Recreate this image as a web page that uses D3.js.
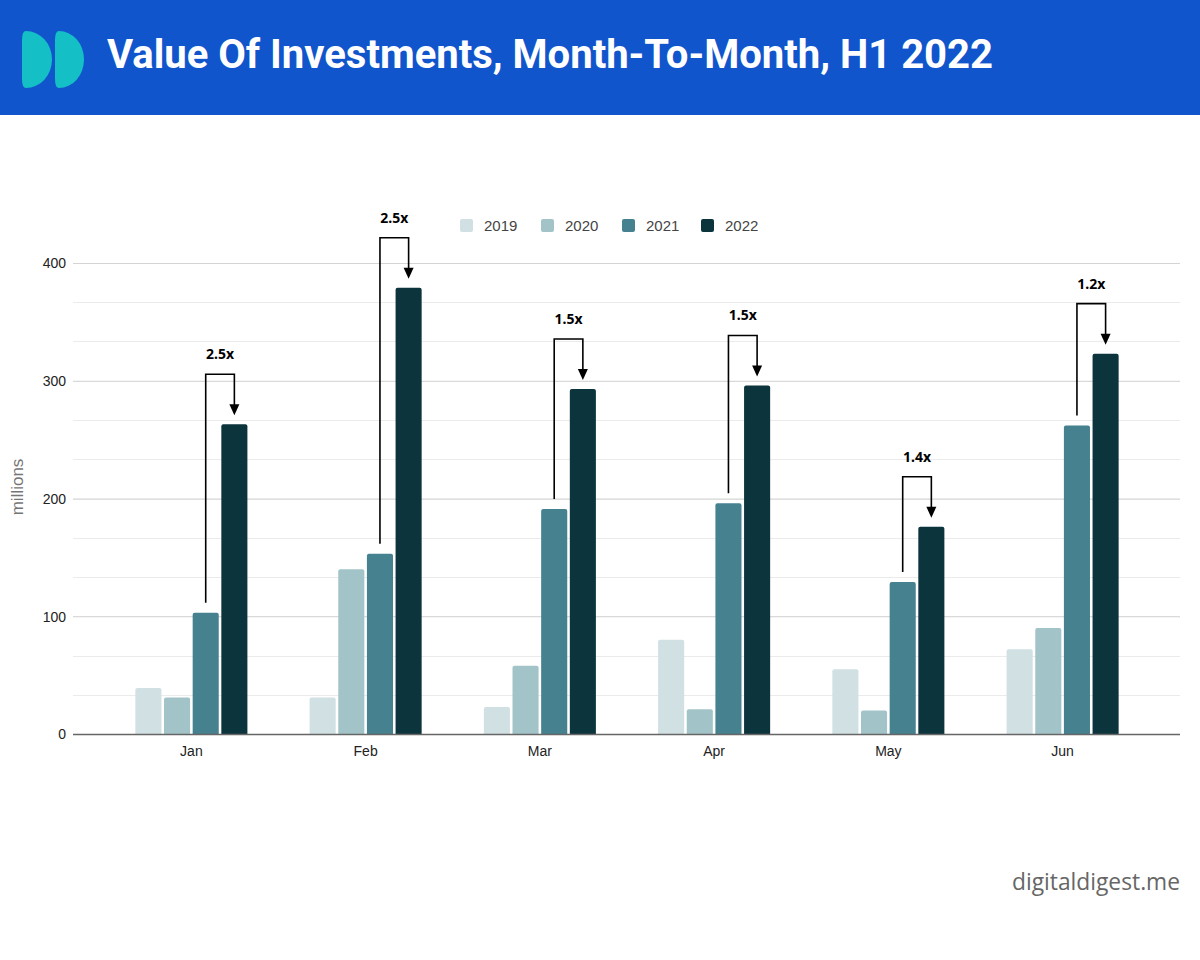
<!DOCTYPE html>
<html>
<head>
<meta charset="utf-8">
<script src="https://cdn.jsdelivr.net/npm/d3@7/dist/d3.min.js"></script>
<style>
  html, body { margin: 0; padding: 0; background: #fff; }
  svg { display: block; }
</style>
</head>
<body>
<svg id="chart" width="1200" height="960"></svg>
<script>
const months = ["Jan", "Feb", "Mar", "Apr", "May", "Jun"];
const years = ["2019", "2020", "2021", "2022"];
const values2019 = [39, 31, 23, 80, 55, 72];
const values2020 = [31, 140, 58, 21, 20, 90];
const values2021 = [103, 153, 191, 196, 129, 262];
const values2022 = [263, 379, 293, 296, 176, 323];
const growthLabels = ["2.5x", "2.5x", "1.5x", "1.5x", "1.4x", "1.2x"];
const yTicks = [0, 100, 200, 300, 400];
const colors = ["#d0e0e3", "#a2c4c9", "#45818e", "#0c343d"];

const seriesValues = [values2019, values2020, values2021, values2022];
const rows = months.map((m, i) => ({ month: m, vals: years.map((y, j) => ({ year: y, value: seriesValues[j][i] })) }));

const svg = d3.select("#chart");

// Header
svg.append("rect").attr("x", 0).attr("y", 0).attr("width", 1200).attr("height", 115).attr("fill", "#1155cc");
const logo = (x0, x1) => `M${x0+4},31 Q${x0},31 ${x0},40 L${x0},79 Q${x0},88 ${x0+4},88 A${x1-x0-4},28.5 0 0 0 ${x0+4},31 Z`;
svg.append("path").attr("d", logo(22, 52)).attr("fill", "#14bfc5");
svg.append("path").attr("d", logo(55, 84)).attr("fill", "#14bfc5");
svg.append("text").attr("x", 107).attr("y", 68)
  .attr("font-family", "Roboto, 'Open Sans', sans-serif").attr("font-weight", 700).attr("font-size", 40)
  .attr("fill", "#fff").attr("textLength", 886).attr("lengthAdjust", "spacingAndGlyphs")
  .text("Value Of Investments, Month-To-Month, H1 2022");

// Scales
const y = d3.scaleLinear().domain([0, 400]).range([734, 263]);
const x0 = d3.scaleBand().domain(months).range([104, 1150]).paddingInner(0.357).paddingOuter(0.18);
const x1 = d3.scaleBand().domain(years).range([0, x0.bandwidth()]).paddingInner(0.09);
const color = d3.scaleOrdinal().domain(years).range(colors);

const gridLeft = 73, gridRight = 1180;

// Minor grid
const minorTicks = d3.range(0, 400.01, 100 / 3);
svg.append("g").selectAll("line").data(minorTicks).join("line")
  .attr("x1", gridLeft).attr("x2", gridRight)
  .attr("y1", d => Math.round(y(d)) + 0.5).attr("y2", d => Math.round(y(d)) + 0.5)
  .attr("stroke", "#ebebeb").attr("stroke-width", 1);

// Major grid + y labels
const yAxis = d3.axisLeft(y).tickValues(yTicks).tickSize(-(gridRight - gridLeft)).tickPadding(8).tickFormat(d3.format("d"));
const yg = svg.append("g").attr("transform", `translate(${gridLeft},0)`).call(yAxis);
yg.select(".domain").remove();
yg.selectAll(".tick line").attr("stroke", "#d4d4d4");
yg.selectAll(".tick text").attr("font-family", "'Liberation Sans', Arial, sans-serif").attr("font-size", 14).attr("fill", "#222").attr("x", -7).attr("dy", "0.35em");

// Bars
const groups = svg.append("g").selectAll("g").data(rows).join("g")
  .attr("transform", d => `translate(${x0(d.month)},0)`);
groups.selectAll("rect").data(d => d.vals).join("rect")
  .attr("x", d => x1(d.year)).attr("width", x1.bandwidth())
  .attr("y", d => y(d.value)).attr("height", d => y(0) - y(d.value) + 2)
  .attr("rx", 2).attr("fill", d => color(d.year));

// Cover rounding at the bottom with the baseline
svg.append("rect").attr("x", gridLeft).attr("y", 734.5).attr("width", gridRight - gridLeft).attr("height", 4).attr("fill", "#fff");

// X axis
const xAxis = d3.axisBottom(x0).tickSize(0).tickPadding(12);
const xg = svg.append("g").attr("transform", `translate(0,${y(0)})`).call(xAxis);
xg.select(".domain").remove();
xg.selectAll(".tick text").attr("font-family", "'Liberation Sans', Arial, sans-serif").attr("font-size", 14).attr("fill", "#222");
svg.append("line").attr("x1", gridLeft).attr("x2", gridRight).attr("y1", 734.5).attr("y2", 734.5).attr("stroke", "#666").attr("stroke-width", 1.3);

// y axis title
svg.append("text").attr("transform", "translate(23,487) rotate(-90)").attr("text-anchor", "middle")
  .attr("font-family", "'Liberation Sans', Arial, sans-serif").attr("font-size", 17).attr("fill", "#757575").text("millions");

// Legend
const legendX = [460, 541, 622, 701];
const lg = svg.append("g").selectAll("g").data(years).join("g")
  .attr("transform", (d, i) => `translate(${legendX[i]},219)`);
lg.append("rect").attr("width", 13).attr("height", 13).attr("rx", 2).attr("fill", d => color(d));
lg.append("text").attr("x", 24).attr("y", 12).attr("font-family", "'Liberation Sans', Arial, sans-serif")
  .attr("font-size", 15).attr("fill", "#444").text(d => d);

// Growth annotations
const ann = svg.append("g");
rows.forEach((r, i) => {
  const xl = x0(r.month) + x1("2021") + x1.bandwidth() / 2;
  const xr = x0(r.month) + x1("2022") + x1.bandwidth() / 2;
  const top22 = y(r.vals[3].value);
  const top21 = y(r.vals[2].value);
  const bracketTop = top22 - 50;
  const tip = top22 - 9;
  ann.append("path")
    .attr("d", `M${xl},${top21 - 10} L${xl},${bracketTop} L${xr},${bracketTop} L${xr},${tip - 9}`)
    .attr("fill", "none").attr("stroke", "#000").attr("stroke-width", 1.6);
  ann.append("path")
    .attr("d", `M${xr - 5},${tip - 11} L${xr + 5},${tip - 11} L${xr},${tip} Z`)
    .attr("fill", "#000");
  ann.append("text").attr("x", (xl + xr) / 2).attr("y", bracketTop - 15).attr("text-anchor", "middle")
    .attr("font-family", "'Noto Sans', sans-serif").attr("font-weight", 700).attr("font-size", 14)
    .attr("fill", "#000").text(growthLabels[i]);
});

// Footer
svg.append("text").attr("x", 1180).attr("y", 890).attr("text-anchor", "end")
  .attr("font-family", "'Open Sans', Roboto, sans-serif").attr("font-weight", 400).attr("font-size", 23)
  .attr("fill", "#666").attr("textLength", 168).attr("lengthAdjust", "spacingAndGlyphs").text("digitaldigest.me");
</script>
</body>
</html>
